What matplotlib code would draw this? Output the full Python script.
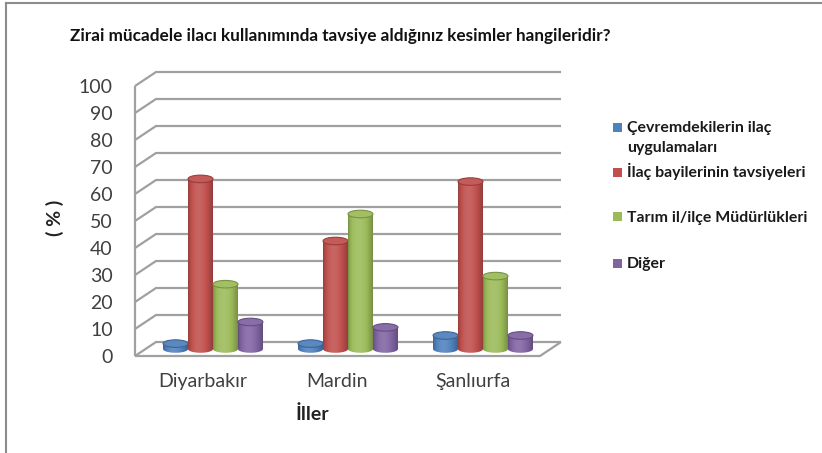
import numpy as np
import matplotlib
matplotlib.use("Agg")
import matplotlib.pyplot as plt
from matplotlib.patches import Ellipse, Rectangle
from matplotlib.lines import Line2D
from matplotlib.path import Path
import matplotlib.colors as mcolors

# ---------------- data ----------------
categories = ["Diyarbakır", "Mardin", "Şanlıurfa"]
series_names = ["Çevremdekilerin ilaç\nuygulamaları",
                "İlaç bayilerinin tavsiyeleri",
                "Tarım il/ilçe Müdürlükleri",
                "Diğer"]
cevre = [2, 2, 5]
bayi = [63, 40, 62]
tarim = [24, 50, 27]
diger = [10, 8, 5]
yticks = list(range(0, 101, 10))
title = "Zirai mücadele ilacı kullanımında tavsiye aldığınız kesimler hangileridir?"
ylabel = "( % )"
xlabel = "İller"
colors = ["#4F81BD", "#C0504D", "#9BBB59", "#8064A2"]

FONT = ["Lato", "DejaVu Sans"]
plt.rcParams["font.family"] = FONT

W, H = 822, 453
fig = plt.figure(figsize=(W / 100, H / 100), dpi=100)


def fx(px):
    return px / W


def fy(py):
    return 1 - py / H


ax = fig.add_axes([fx(135), fy(356), fx(540) - fx(135), fy(86) - fy(356)])
ax.patch.set_visible(False)
for sp in ax.spines.values():
    sp.set_visible(False)

depth_x = 21 / 135.0
depth_y = 14 / 2.7

grid_kw = dict(color="#a0a0a0", lw=1.6, clip_on=False, zorder=1,
               solid_capstyle="butt", solid_joinstyle="miter")
for v in yticks:
    ax.plot([0, depth_x, len(categories) + depth_x],
            [v, v + depth_y, v + depth_y], **grid_kw)
ax.plot([0, 0], [0, yticks[-1]], **grid_kw)
ax.plot([0, len(categories), len(categories) + depth_x], [0, 0, depth_y], **grid_kw)

# ---------------- cylinders ----------------
values = [cevre, bayi, tarim, diger]
bw = 0.185
eh = 2.8
base = depth_y / 2
xoff = depth_x / 2
t = np.linspace(0, 1, 80)
shade = 0.76 + 0.36 * np.sin(np.pi * t ** 0.8) ** 0.9


def shade_rgb(rgb, f):
    rgb = np.asarray(rgb)
    if f <= 1:
        return rgb * f
    return rgb + (1 - rgb) * (f - 1)


for s, (vals, col) in enumerate(zip(values, colors)):
    rgb = np.array(mcolors.to_rgb(col))
    grad = np.array([shade_rgb(rgb, f) for f in shade])[None, :, :]
    for c, v in enumerate(vals):
        z = 3 + s * 0.1
        x = c + 0.5 + xoff + (s - 1.5) * bw
        bars = ax.bar(x, v, width=bw, bottom=base, color=col, zorder=z, linewidth=0)
        th = np.linspace(np.pi, 2 * np.pi, 40)
        pts = [(x - bw / 2, base + v)]
        pts += [(x + bw / 2 * np.cos(a), base + eh / 2 * np.sin(a)) for a in th]
        pts += [(x + bw / 2, base + v), (x - bw / 2, base + v)]
        codes = [Path.MOVETO] + [Path.LINETO] * (len(pts) - 2) + [Path.CLOSEPOLY]
        clip = Path(pts, codes)
        im = ax.imshow(grad, extent=(x - bw / 2, x + bw / 2, base - eh / 2, base + v),
                       aspect="auto", zorder=z + 0.01, interpolation="bilinear")
        im.set_clip_path(clip, transform=ax.transData)
        top = Ellipse((x, base + v), bw, eh, facecolor=shade_rgb(rgb, 1.06),
                      edgecolor=shade_rgb(rgb, 0.78), lw=0.8, zorder=z + 0.02)
        ax.add_patch(top)

ax.set_xlim(0, len(categories))
ax.set_ylim(0, yticks[-1])
ax.set_aspect("auto")

ax.set_yticks(yticks)
ax.set_yticklabels([str(v) for v in yticks])
ax.set_xticks([i + 0.5 for i in range(len(categories))])
ax.set_xticklabels(categories)
ax.tick_params(axis="both", length=0, labelsize=14, labelcolor="#404040")
ax.tick_params(axis="y", pad=16)
ax.tick_params(axis="x", pad=12)

# ---------------- texts ----------------
fig.text(fx(70), fy(36), title, fontsize=12.3, fontweight="bold", va="center", ha="left",
         color="#111111")
fig.text(fx(312), fy(414), xlabel, fontsize=14, fontweight="bold", ha="center", va="center",
         color="#222222")
fig.text(fx(55), fy(218), ylabel, fontsize=14, fontweight="bold", ha="center", va="center",
         rotation=90, color="#222222")

# legend (manual)
leg_y = [127, 172, 217, 263]
for s, (name, col) in enumerate(zip(series_names, colors)):
    fig.patches.append(Rectangle((fx(613), fy(leg_y[s] + 4.5)), 9 / W, 9 / H,
                                 transform=fig.transFigure, facecolor=col,
                                 edgecolor="none", figure=fig))
    for k, line in enumerate(name.split("\n")):
        fig.text(fx(627), fy(leg_y[s] + 20 * k + 5), line, fontsize=11.4, ha="left",
                 va="baseline", color="#1a1a1a", fontweight="bold")

# frame lines
fig.add_artist(Line2D([fx(6), fx(6)], [fy(3), 0], transform=fig.transFigure,
                      color="#8c8c8c", lw=1.5))
fig.add_artist(Line2D([fx(6), 1], [fy(3), fy(3)], transform=fig.transFigure,
                      color="#8c8c8c", lw=1.5))

fig.savefig("out.png", dpi=100)
